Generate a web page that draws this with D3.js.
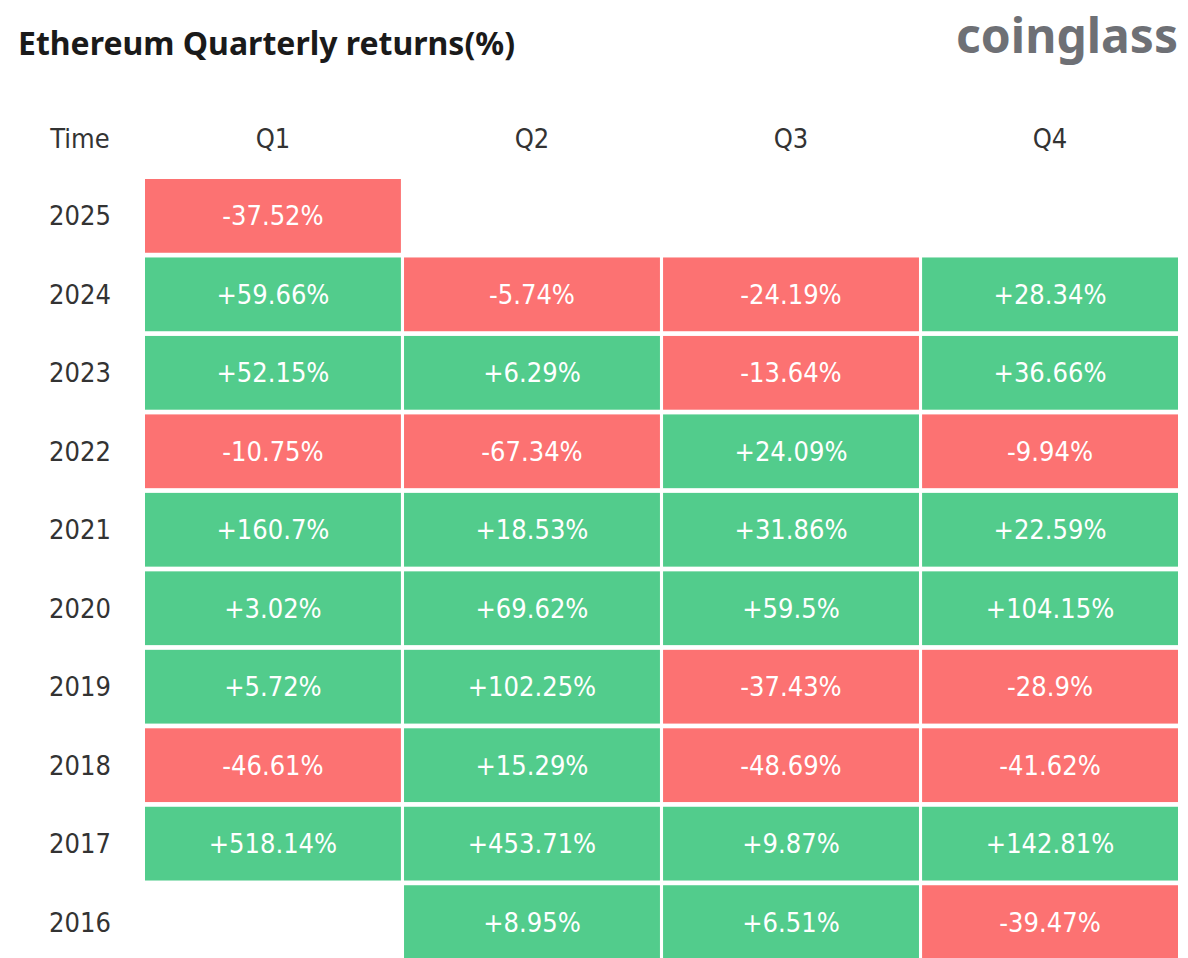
<!DOCTYPE html>
<html>
<head>
<meta charset="utf-8">
<script src="https://cdn.jsdelivr.net/npm/d3@7"></script>
<style>
  body { margin: 0; background: #fff; }
</style>
</head>
<body>
<div id="chart"></div>
<script>
const years = ['2025', '2024', '2023', '2022', '2021', '2020', '2019', '2018', '2017', '2016']
const quarters = ['Q1', 'Q2', 'Q3', 'Q4']

// one array per quarter, same order as years, null = no data
const q1 = [-37.52, 59.66, 52.15, -10.75, 160.7, 3.02, 5.72, -46.61, 518.14, null]
const q2 = [null, -5.74, 6.29, -67.34, 18.53, 69.62, 102.25, 15.29, 453.71, 8.95]
const q3 = [null, -24.19, -13.64, 24.09, 31.86, 59.5, -37.43, -48.69, 9.87, 6.51]
const q4 = [null, 28.34, 36.66, -9.94, 22.59, 104.15, -28.9, -41.62, 142.81, -39.47]

const width = 1188
const height = 958
const green = '#52cc8c'
const red = '#fc7272'
const cellFont = '"DejaVu Sans Condensed", "DejaVu Sans", sans-serif'
const cellSize = 27

const series = [q1, q2, q3, q4]
const cells = []
years.forEach(function(y, i) {
  quarters.forEach(function(q, j) {
    const v = series[j][i]
    if (v !== null) cells.push({year: y, quarter: q, value: v})
  })
})

const svg = d3.select('#chart').append('svg')
  .attr('width', width)
  .attr('height', height)
  .attr('xmlns', 'http://www.w3.org/2000/svg')

const x = d3.scaleBand()
  .domain(quarters)
  .range([145, 1178])
  .paddingInner(0.012)

const y = d3.scaleBand()
  .domain(years)
  .range([179, 959])
  .paddingInner(0.06)

// --- title + logo ---
svg.append('text')
  .attr('x', 18)
  .attr('y', 55)
  .attr('font-family', '"Noto Sans", sans-serif')
  .attr('font-weight', 'bold')
  .attr('font-size', 32)
  .attr('fill', '#1a1a1a')
  .text('Ethereum Quarterly returns(%)')

svg.append('text')
  .attr('x', 1178)
  .attr('y', 53)
  .attr('text-anchor', 'end')
  .attr('font-family', '"Noto Sans", sans-serif')
  .attr('font-weight', 'bold')
  .attr('font-size', 48)
  .attr('fill', '#6e7075')
  .text('coinglass')

// --- header row ---
const labelY = 139
svg.append('text')
  .attr('x', 80)
  .attr('y', labelY)
  .attr('dy', '0.35em')
  .attr('text-anchor', 'middle')
  .attr('font-family', cellFont)
  .attr('font-size', cellSize)
  .attr('fill', '#333')
  .text('Time')

svg.append('g').selectAll('text')
  .data(quarters)
  .join('text')
    .attr('x', d => x(d) + x.bandwidth() / 2)
    .attr('y', labelY)
    .attr('dy', '0.35em')
    .attr('text-anchor', 'middle')
    .attr('font-family', cellFont)
    .attr('font-size', cellSize)
    .attr('fill', '#333')
    .text(d => d)

// --- year labels ---
svg.append('g').selectAll('text')
  .data(years)
  .join('text')
    .attr('x', 80)
    .attr('y', d => y(d) + y.bandwidth() / 2)
    .attr('dy', '0.35em')
    .attr('text-anchor', 'middle')
    .attr('font-family', cellFont)
    .attr('font-size', cellSize)
    .attr('fill', '#333')
    .text(d => d)

// --- cells ---
const fmt = v => (v > 0 ? '+' : '') + v + '%'

const cell = svg.append('g').selectAll('g')
  .data(cells)
  .join('g')
    .attr('transform', d => `translate(${x(d.quarter)},${y(d.year)})`)

cell.append('rect')
  .attr('width', x.bandwidth())
  .attr('height', y.bandwidth())
  .attr('fill', d => d.value >= 0 ? green : red)

cell.append('text')
  .attr('x', x.bandwidth() / 2)
  .attr('y', y.bandwidth() / 2)
  .attr('dy', '0.35em')
  .attr('text-anchor', 'middle')
  .attr('font-family', cellFont)
  .attr('font-size', cellSize)
  .attr('fill', '#fff')
  .text(d => fmt(d.value))
</script>
</body>
</html>
